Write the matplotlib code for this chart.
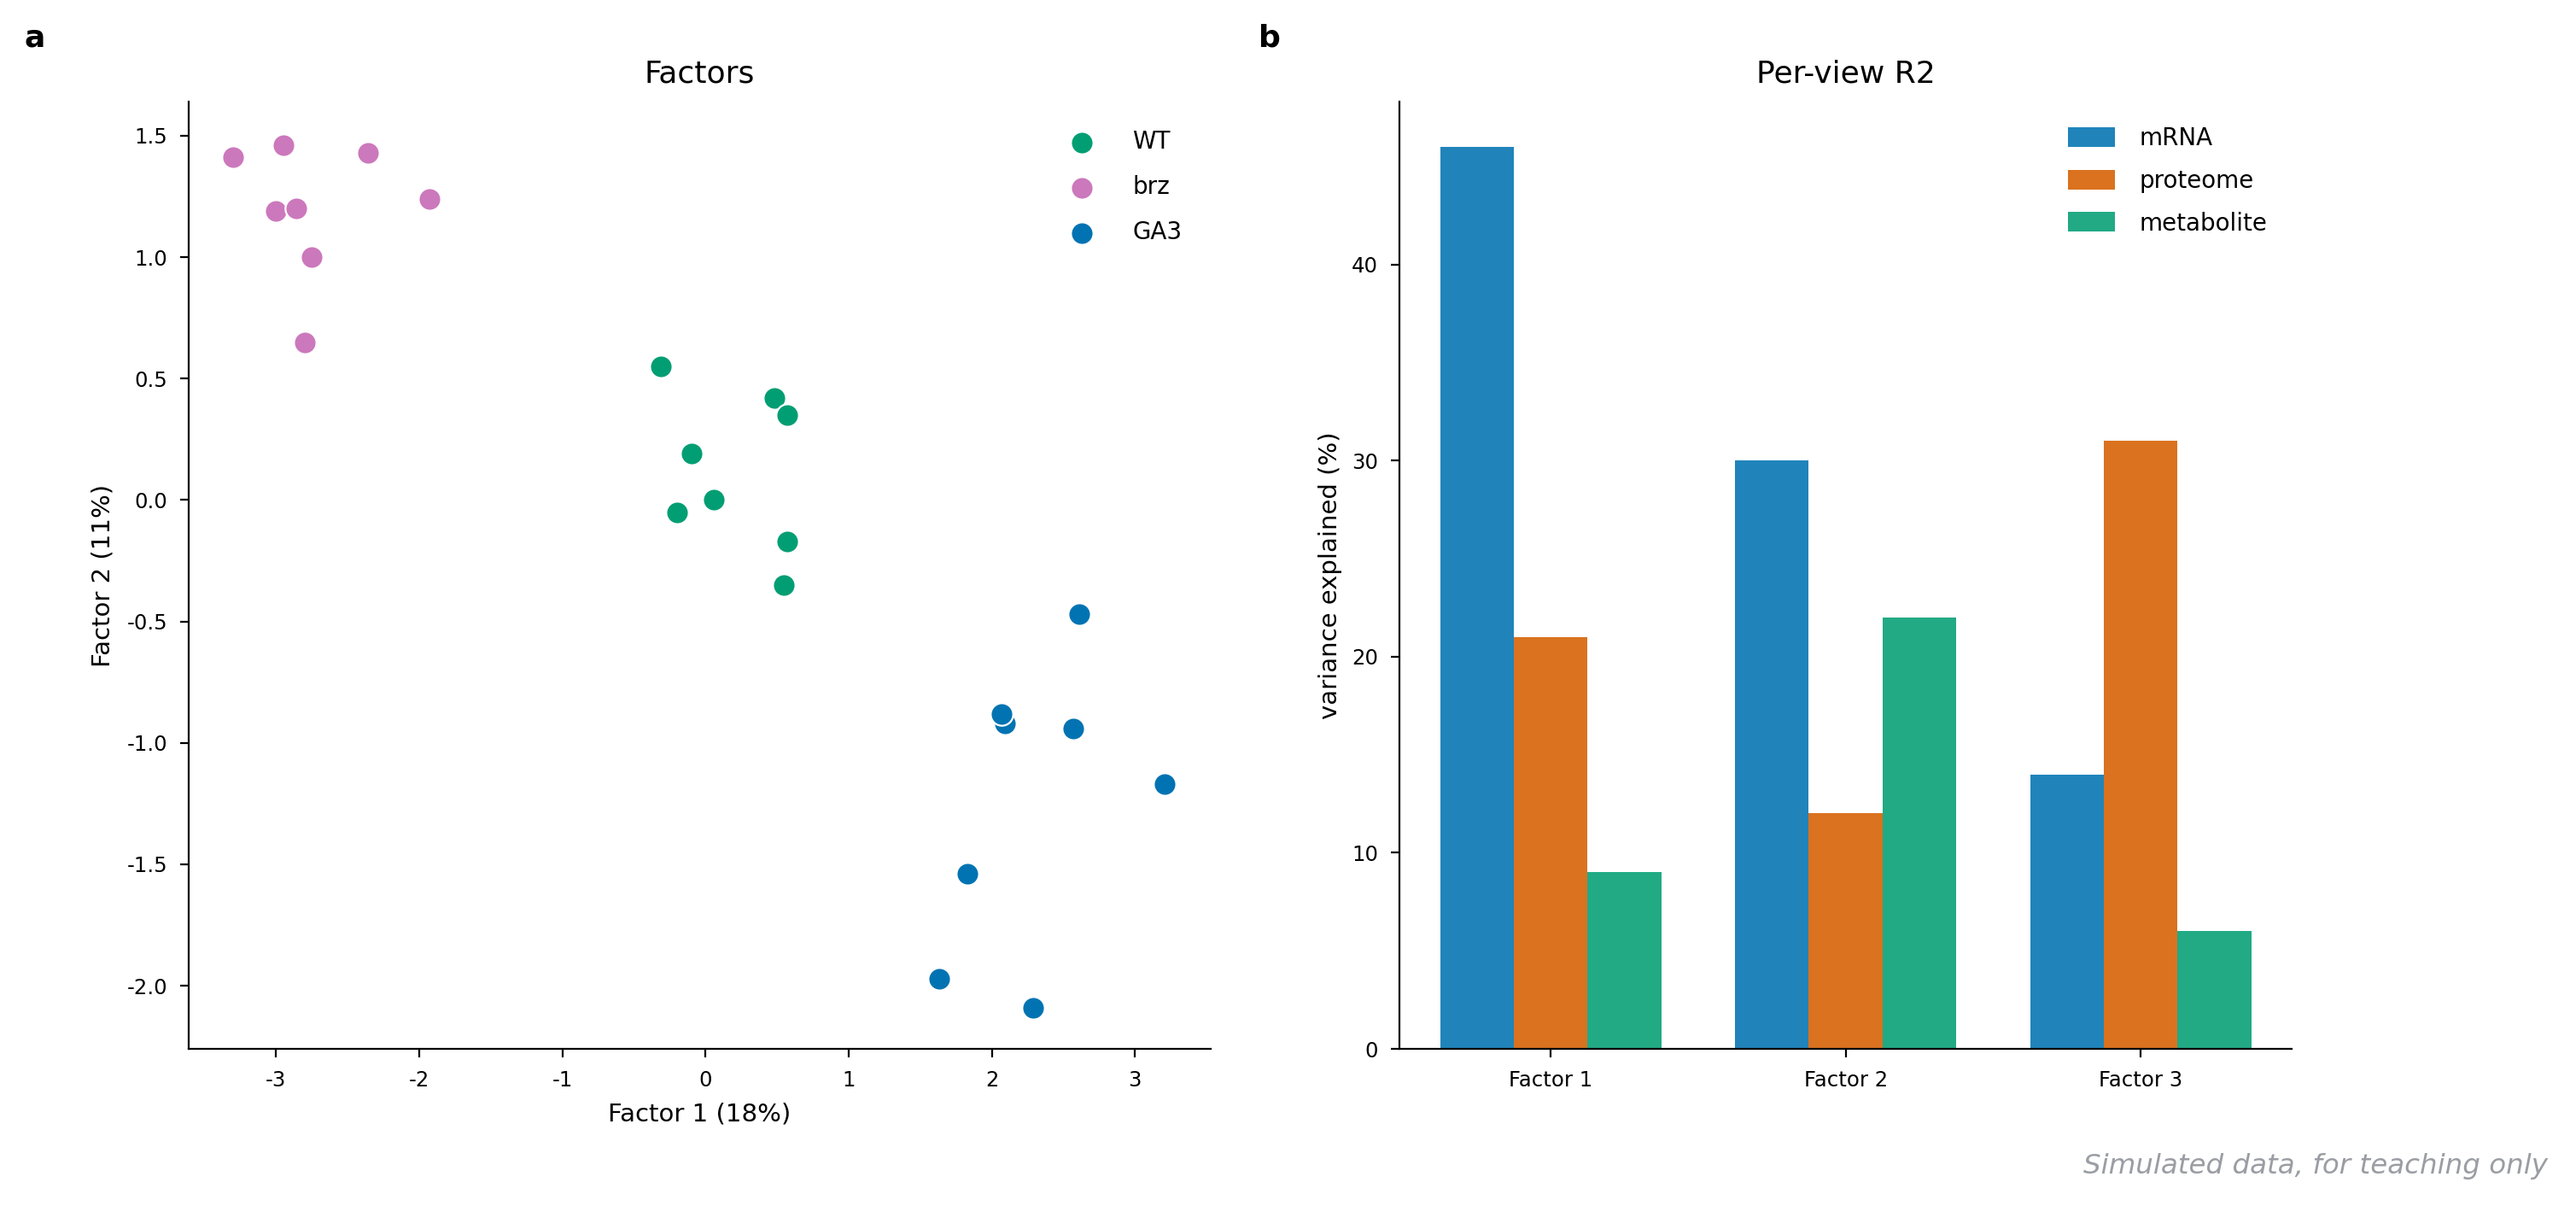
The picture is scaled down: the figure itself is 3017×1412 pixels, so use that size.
import matplotlib
matplotlib.use("Agg")
import matplotlib.pyplot as plt
import numpy as np

plt.rcParams['font.family'] = ['DejaVu Sans']
plt.rcParams['axes.unicode_minus'] = False

# ---- data ----
groups = ["WT", "brz", "GA3"]
group_colors = ["#029e73", "#cc78bc", "#0173b2"]

wt_f1 = [-0.31, 0.48, 0.57, -0.10, -0.20, 0.06, 0.57, 0.55]
wt_f2 = [0.55, 0.42, 0.35, 0.19, -0.05, 0.00, -0.17, -0.35]
brz_f1 = [-3.30, -2.95, -2.36, -1.93, -3.00, -2.86, -2.75, -2.80]
brz_f2 = [1.41, 1.46, 1.43, 1.24, 1.19, 1.20, 1.00, 0.65]
ga3_f1 = [2.61, 2.09, 2.07, 2.57, 3.21, 1.83, 1.63, 2.29]
ga3_f2 = [-0.47, -0.92, -0.88, -0.94, -1.17, -1.54, -1.97, -2.09]

factors = ["Factor 1", "Factor 2", "Factor 3"]
views = ["mRNA", "proteome", "metabolite"]
view_colors = ["#0173b2", "#d55e00", "#029e73"]
mrna_r2 = [46, 30, 14]
proteome_r2 = [21, 12, 31]
metabolite_r2 = [9, 22, 6]

fig = plt.figure(figsize=(15.085, 7.06), dpi=200)

# ---- panel a ----
ax1 = fig.add_axes([0.0733, 0.1303, 0.3967, 0.7854])
for name, col, xs, ys in zip(groups, group_colors,
                             [wt_f1, brz_f1, ga3_f1], [wt_f2, brz_f2, ga3_f2]):
    ax1.scatter(xs, ys, s=90, color=col, edgecolor="white", linewidth=0.8,
                label=name, zorder=3)
ax1.set_xlim(-3.61, 3.53)
ax1.set_ylim(-2.26, 1.64)
ax1.set_xticks([-3, -2, -1, 0, 1, 2, 3])
ax1.set_yticks([-2.0, -1.5, -1.0, -0.5, 0.0, 0.5, 1.0, 1.5])
ax1.set_yticklabels(["-2.0", "-1.5", "-1.0", "-0.5", "0.0", "0.5", "1.0", "1.5"])
ax1.set_xlabel("Factor 1 (18%)", fontsize=10.5, labelpad=5)
ax1.set_ylabel("Factor 2 (11%)", fontsize=10.5, labelpad=5)
ax1.set_title("Factors", fontsize=13, pad=8)
ax1.tick_params(labelsize=8.8, pad=5.5)
for s in ["top", "right"]:
    ax1.spines[s].set_visible(False)
ax1.legend(loc="upper right", frameon=False, fontsize=10, handletextpad=1.15,
           labelspacing=0.9, borderaxespad=0.8)

# ---- panel b ----
ax2 = fig.add_axes([0.5433, 0.1303, 0.3464, 0.7854])
x = np.arange(len(factors))
w = 0.25
for i, (name, col, vals) in enumerate(zip(views, view_colors,
                                          [mrna_r2, proteome_r2, metabolite_r2])):
    ax2.bar(x + (i - 1) * w, vals, width=w, color=col, alpha=0.88, label=name)
ax2.set_xticks(x)
ax2.set_xticklabels(factors)
ax2.set_yticks([0, 10, 20, 30, 40])
ax2.set_ylabel("variance explained (%)", fontsize=10.5)
ax2.set_title("Per-view R2", fontsize=13, pad=8)
ax2.tick_params(labelsize=8.8, pad=5.5)
for s in ["top", "right"]:
    ax2.spines[s].set_visible(False)
ax2.legend(loc="upper right", frameon=False, fontsize=10, handlelength=2.0,
           handleheight=0.9, handletextpad=1.0, labelspacing=0.78,
           borderaxespad=0.65)

fig.text(0.0095, 0.9686, "a", fontsize=13, fontweight="bold", va="center")
fig.text(0.4885, 0.9686, "b", fontsize=13, fontweight="bold", va="center")
fig.text(0.989, 0.033, "Simulated data, for teaching only", ha="right", va="center",
         fontsize=11.7, style="italic", color="#9a9da3")

fig.savefig("out.png", dpi=200)
